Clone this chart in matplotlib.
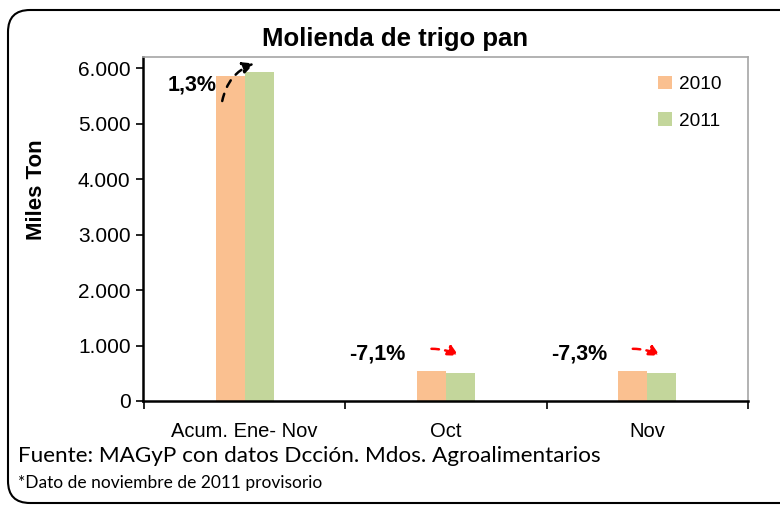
import numpy as np
import matplotlib
matplotlib.use("Agg")
import matplotlib.pyplot as plt
from matplotlib.patches import FancyBboxPatch
from matplotlib.transforms import IdentityTransform
from matplotlib.ticker import FuncFormatter

# datos (miles de toneladas)
categorias = ["Acum. Ene- Nov", "Oct", "Nov"]
val_2010 = [5855, 540, 540]
val_2011 = [5930, 502, 500]
variacion = ["1,3%", "-7,1%", "-7,3%"]

col_2010 = "#FAC090"
col_2011 = "#C3D69B"

plt.rcParams["font.family"] = ["Liberation Sans", "DejaVu Sans"]

fig = plt.figure(figsize=(7.8, 5.05), dpi=100)
ax = fig.add_axes([143 / 780, 1 - 401 / 505, (748 - 143) / 780, (401 - 57) / 505])

x = np.arange(len(categorias))
w = 0.144
ax.bar(x - w / 2, val_2010, w, color=col_2010, label="2010")
ax.bar(x + w / 2, val_2011, w, color=col_2011, label="2011")

ax.set_xlim(-0.505, 2.5)
ax.set_ylim(0, 6200)
ax.set_yticks(range(0, 6001, 1000))
ax.yaxis.set_major_formatter(FuncFormatter(lambda v, p: f"{int(v):,}".replace(",", ".")))
ax.set_xticks(x)
ax.set_xticklabels(categorias)
ax.set_xticks([-0.5, 0.5, 1.5, 2.5], minor=True)
ax.tick_params(axis="x", which="major", length=0, labelsize=14.5, pad=15)
ax.tick_params(axis="x", which="minor", length=6, width=1.2, direction="out")
ax.tick_params(axis="y", length=5, width=1.2, labelsize=15, pad=4)

for s in ["top", "right"]:
    ax.spines[s].set_color("#A6A6A6")
    ax.spines[s].set_linewidth(1.2)
for s in ["left", "bottom"]:
    ax.spines[s].set_linewidth(1.8)

# variaciones
ax.text(-0.26, 5694, variacion[0], ha="center", va="center", fontsize=15.5, fontweight="bold")
ax.annotate("", xy=(0.06, val_2011[0] + 170), xytext=(-0.114, val_2010[0] * 0.915),
            arrowprops=dict(arrowstyle="-|>", color="black", lw=1.8, linestyle=(0, (3, 3)),
                            connectionstyle="arc3,rad=-0.3", mutation_scale=17))
for i in (1, 2):
    ax.text(i - 0.34, 850, variacion[i], ha="center", va="center", fontsize=15.5, fontweight="bold")
    ax.annotate("", xy=(i + 0.075, 790), xytext=(i - 0.086, 940),
                arrowprops=dict(arrowstyle="-|>", color="red", lw=1.8, linestyle=(0, (3, 2.5)),
                                connectionstyle="arc3,rad=-0.15", mutation_scale=16))

leg = ax.legend(loc="upper right", bbox_to_anchor=(0.985, 0.995), frameon=False, fontsize=13.7,
                handlelength=0.7, handleheight=0.7, handletextpad=0.4, labelspacing=1.0)

fig.text(0.506, 0.922, "Molienda de trigo pan", ha="center", va="center",
         fontsize=18.5, fontweight="bold")
fig.text(37 / 780, 1 - 190 / 505, "Miles Ton", rotation=90, ha="center", va="center",
         fontsize=16, fontweight="bold")
fig.text(18 / 780, 1 - 456 / 505, "Fuente: MAGyP con datos Dcción. Mdos. Agroalimentarios",
         ha="left", va="center", fontsize=16.2, family="Lato")
fig.text(18 / 780, 1 - 483 / 505, "*Dato de noviembre de 2011 provisorio",
         ha="left", va="center", fontsize=12.5, family="Lato")

# marco redondeado
marco = FancyBboxPatch((8, 2), 900, 493, boxstyle="round,pad=0,rounding_size=22",
                       transform=IdentityTransform(), fill=False, edgecolor="black", lw=1.5)
fig.patches.append(marco)

fig.savefig("out.png", dpi=100)
